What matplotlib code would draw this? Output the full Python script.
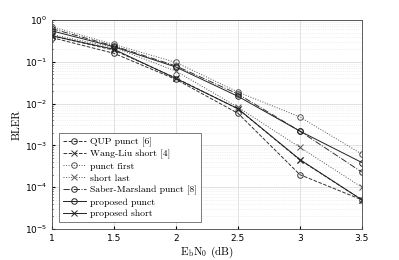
import matplotlib
matplotlib.use('Agg')
import matplotlib.pyplot as plt

plt.rcParams['mathtext.fontset'] = 'cm'
plt.rcParams['axes.formatter.use_mathtext'] = True

snr = [1, 1.5, 2, 2.5, 3, 3.5]

qup_punct = [0.38, 0.16, 0.038, 0.0059, 2.0e-4, 5.0e-5]
wang_liu_short = [0.42, 0.19, 0.041, 0.0075, 4.5e-4, 5.0e-5]
punct_first = [0.69, 0.26, 0.097, 0.019, 4.8e-3, 6.2e-4]
short_last = [0.45, 0.22, 0.060, 0.0082, 9.0e-4, 1.0e-4]
saber_marsland = [0.62, 0.24, 0.080, 0.017, 2.2e-3, 2.3e-4]
proposed_punct = [0.55, 0.23, 0.075, 0.015, 2.2e-3, 3.9e-4]
proposed_short = [0.42, 0.20, 0.040, 0.0076, 4.6e-4, 5.0e-5]

series = [
    ("QUP punct [6]", qup_punct, "--", "o", "#333333"),
    ("Wang-Liu short [4]", wang_liu_short, "--", "x", "#333333"),
    ("punct first", punct_first, ":", "o", "#555555"),
    ("short last", short_last, ":", "x", "#555555"),
    ("Saber-Marsland punct [8]", saber_marsland, "-.", "o", "#333333"),
    ("proposed punct", proposed_punct, "-", "o", "#222222"),
    ("proposed short", proposed_short, "-", "x", "#222222"),
]

fig = plt.figure(figsize=(3.99, 2.6), dpi=100)
ax = fig.add_axes([0.130, 0.119, 0.777, 0.804])

for label, vals, ls, mk, col in series:
    ax.semilogy(snr, vals, linestyle=ls, marker=mk, color=col, linewidth=0.7,
                markersize=4, markerfacecolor='none', markeredgewidth=0.7, label=label)

ax.set_xlim(1, 3.5)
ax.set_ylim(1e-5, 1)
ax.set_xticks(snr)
ax.set_xticklabels(['1', '1.5', '2', '2.5', '3', '3.5'])
ax.grid(True, which='major', color='#dddddd', linewidth=0.6)
ax.grid(True, which='minor', color='#e4e4e4', linestyle=':', linewidth=0.5)
ax.tick_params(which='both', direction='in', labelsize=6.5, length=2)
ax.tick_params(which='minor', length=1)
for s in ax.spines.values():
    s.set_color('#444444')
    s.set_linewidth(0.6)

ax.set_xlabel(r'$\mathrm{E_bN_0}$ (dB)', family='cmr10', fontsize=8, labelpad=1)
ax.set_ylabel('BLER', family='cmr10', fontsize=8, labelpad=2)

leg = ax.legend(loc='lower left', prop={'family': 'cmr10', 'size': 7},
                fancybox=False, edgecolor='#666666', borderaxespad=0.7,
                handlelength=2.4, handletextpad=0.4, labelspacing=0.3,
                borderpad=0.4, framealpha=1)
leg.get_frame().set_linewidth(0.6)

fig.savefig('out.png', dpi=100)
